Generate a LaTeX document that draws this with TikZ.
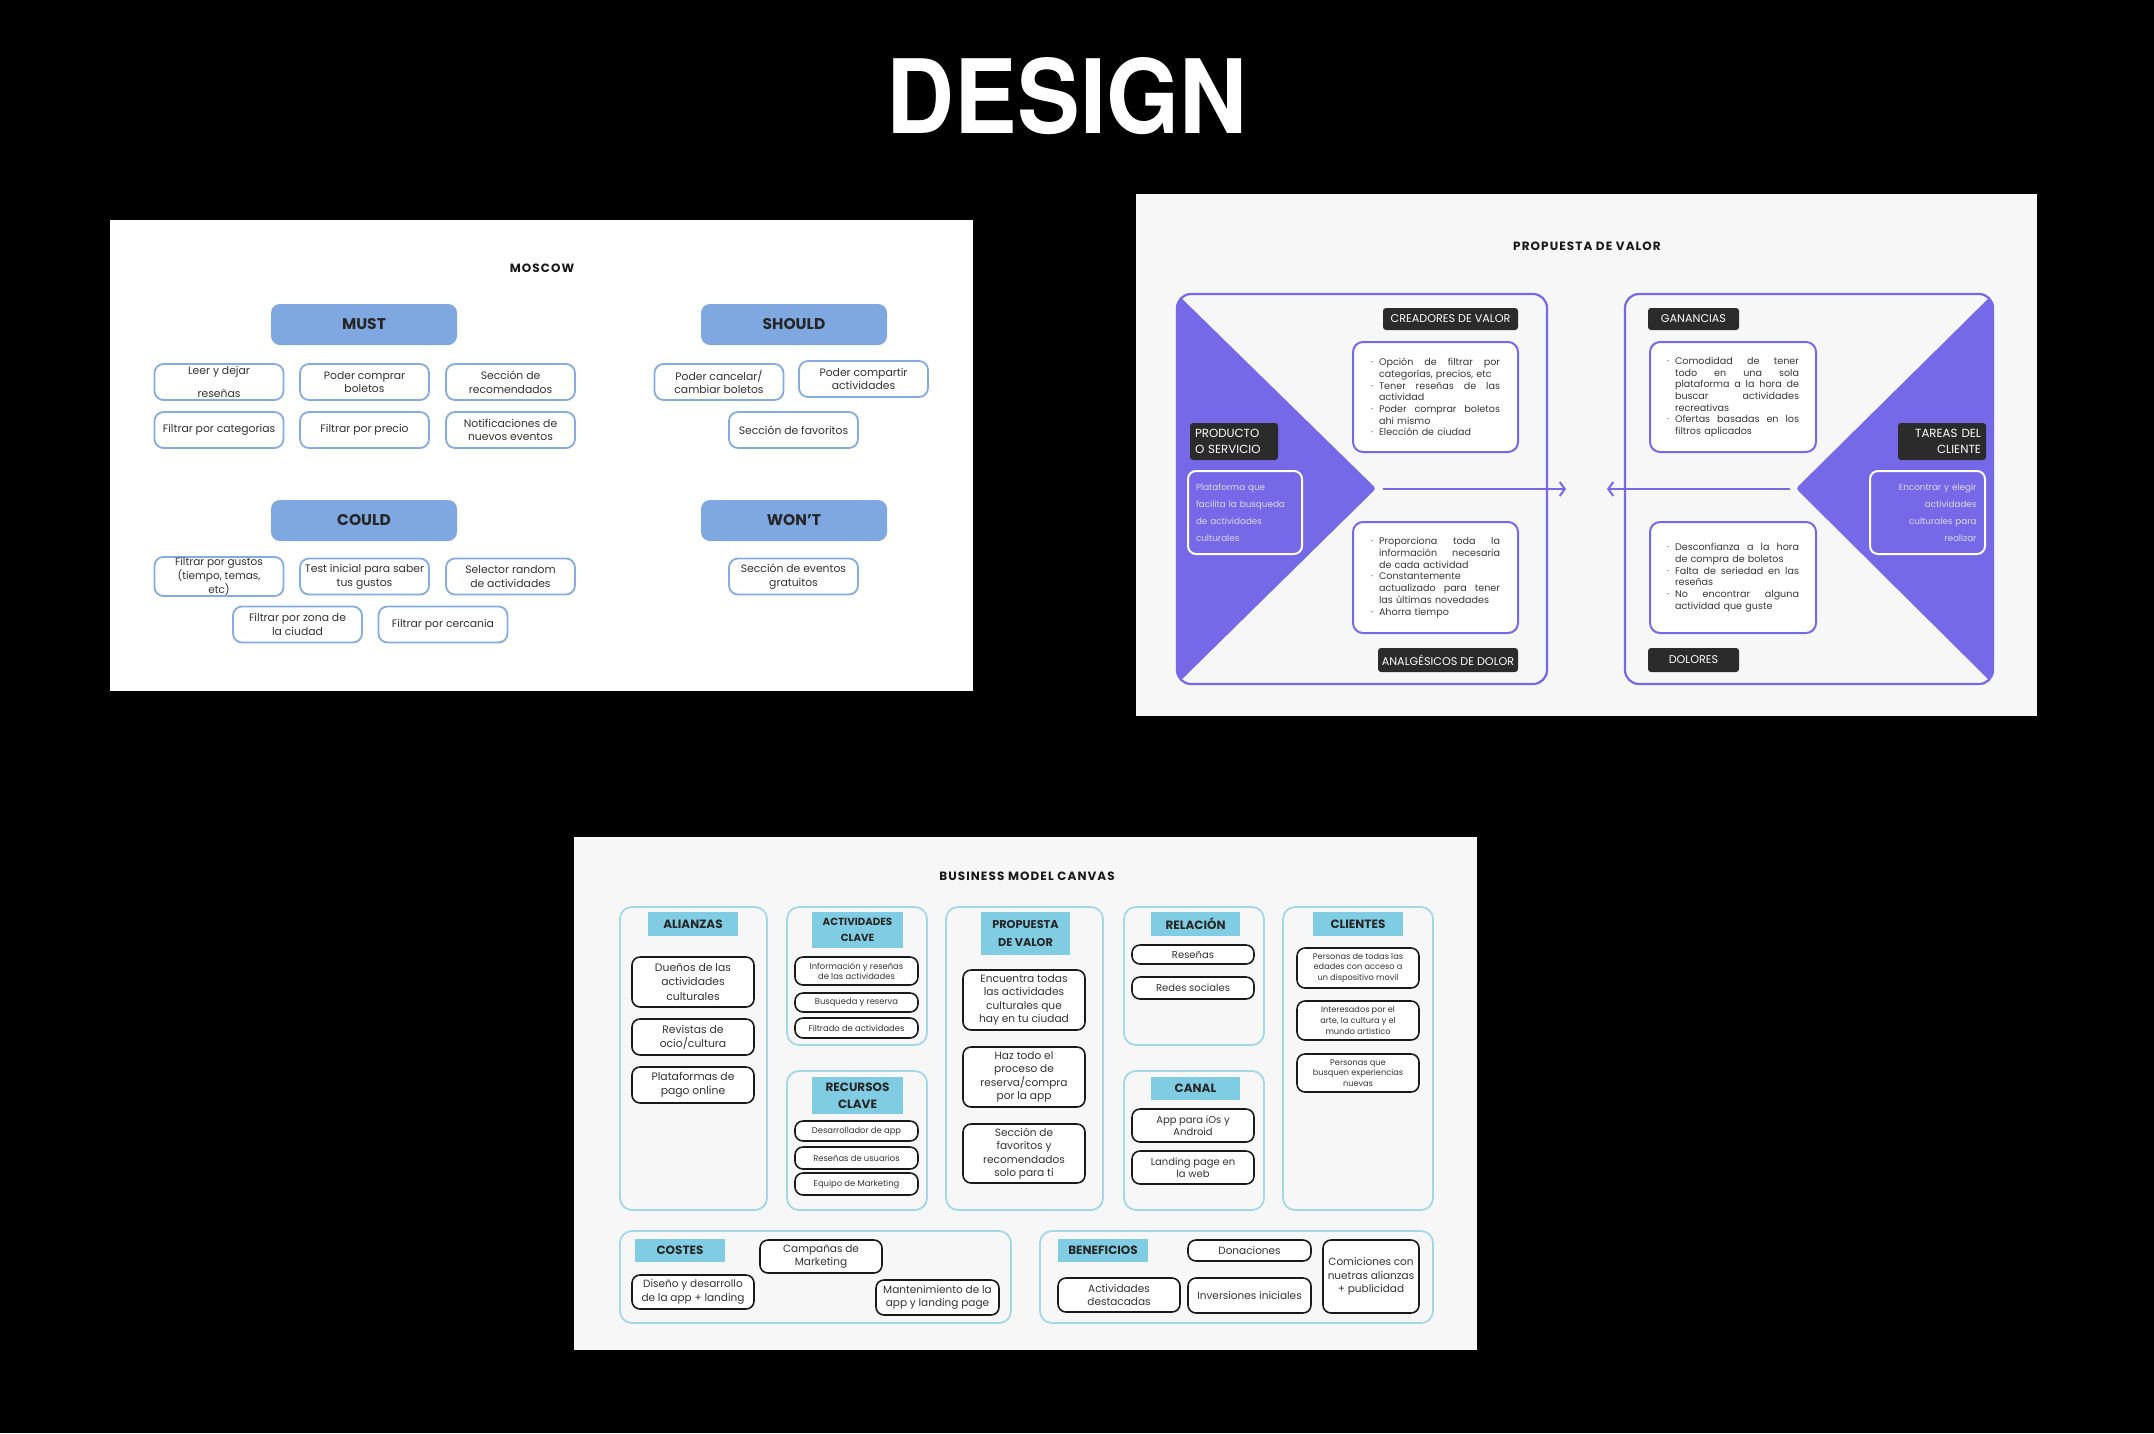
\documentclass[tikz,border=0pt]{standalone}
\usepackage{graphicx}
\usepackage{fontspec}
\setmainfont{Poppins}
\newfontfamily\heros{TeX Gyre Heros}
\usetikzlibrary{arrows.meta}
\definecolor{mblue}{HTML}{7FA7E0}
\definecolor{mbord}{HTML}{86ABE0}
\definecolor{purp}{HTML}{7569E8}
\definecolor{dark}{HTML}{2B2B2B}
\definecolor{cyanh}{HTML}{80CCE2}
\definecolor{cyanb}{HTML}{A3D8E8}
\definecolor{panel}{HTML}{F7F7F7}
\definecolor{lav}{HTML}{DDD8FF}
\newcommand\fsz[2]{\fontsize{#1}{#2}\selectfont}
\newdimen\pw
% bullet lines: justified / left; continuation lines: justified / left
\newcommand\jline[1]{\makebox[\dimexpr\pw-8pt\relax][s]{\spaceskip=.28em plus 1fil\relax #1}}
\newcommand\bj[1]{\noindent\makebox[8pt][l]{·}\jline{#1}\par}
\newcommand\bl[1]{\noindent\makebox[8pt][l]{·}#1\par}
\newcommand\cj[1]{\noindent\hspace*{8pt}\jline{#1}\par}
\newcommand\cl[1]{\noindent\hspace*{8pt}#1\par}
\begin{document}
\begin{tikzpicture}[x=1pt,y=-1pt,
  ptitle/.style={font=\fsz{12}{14}\bfseries\addfontfeature{LetterSpace=9}, text=black!90},
  mhead/.style={fill=mblue, rounded corners=9pt, minimum width=186pt, minimum height=41pt, font=\fsz{15.5}{18}\bfseries, text=black!85},
  mitem/.style={draw=mbord, line width=1.8pt, fill=white, rounded corners=9pt, minimum width=129pt, minimum height=36pt, align=center, font=\fsz{10.8}{13.7}, text=black!80, inner sep=1pt},
  plabel/.style={fill=dark, rounded corners=3pt, text=white, font=\fsz{11.2}{16}, inner sep=0pt},
  pbox/.style={draw=purp, line width=2pt, fill=white, rounded corners=10pt, align=left, font=\fsz{9.6}{11.7}, text=black!78},
  pside/.style={draw=white, line width=2pt, fill=purp, rounded corners=8pt, text width=98pt, font=\fsz{8.8}{17}, text=lav},
  psquare/.style={draw=purp, line width=2.2pt, rounded corners=14pt},
  parrow/.style={draw=purp, line width=2pt, -{Straight Barb[length=5pt,width=14pt,line width=2pt]}},
  bcol/.style={draw=cyanb, line width=1.8pt, rounded corners=12pt},
  bhead/.style={fill=cyanh, minimum width=90pt, minimum height=24pt, font=\fsz{12}{16}\bfseries, align=center, text=black!85, inner sep=0pt},
  bitem/.style={draw=black!90, line width=1.6pt, fill=white, rounded corners=8pt, minimum width=122pt, align=center, inner sep=0pt, text=black!80},
]
\fill[black] (0,0) rectangle (2154,1433);
\useasboundingbox (0,0) rectangle (2154,1433);

% ---------- title
\node[text=white, font=\heros\bfseries, inner sep=0pt] (title) at (1067,96) {\resizebox{360pt}{76pt}{DESIGN}};

% ---------- MOSCOW panel
\fill[white] (110,220) rectangle (973,691);
\node[ptitle] (mtitle) at (542,268) {MOSCOW};
\node[mhead] (must) at (364,324.5) {MUST};
\node[mhead] (should) at (794,324.5) {SHOULD};
\node[mhead] (could) at (364,520.5) {COULD};
\node[mhead] (wont) at (794,520.5) {WON'T};

\node[mitem] (m1) at (219,382) {Leer y dejar\\[9pt]reseñas};
\node[mitem] (m2) at (364.5,382) {Poder comprar\\boletos};
\node[mitem] (m3) at (510.5,382) {Sección de\\recomendados};
\node[mitem] (m4) at (219,430) {Filtrar por categorias};
\node[mitem] (m5) at (364.5,430) {Filtrar por precio};
\node[mitem] (m6) at (510.5,430) {Notificaciones de\\nuevos eventos};

\node[mitem] (s1) at (719,382) {Poder cancelar/\\cambiar boletos};
\node[mitem] (s2) at (863.5,379) {Poder compartir\\actividades};
\node[mitem] (s3) at (793.5,430) {Sección de favoritos};

\node[mitem, font=\fsz{10.5}{12.2}] (c1) at (219,576.5) {Filtrar por gustos\\(tiempo, temas,\\etc)};
\node[mitem] (c2) at (364.5,576.5) {Test inicial para saber\\tus gustos};
\node[mitem] (c3) at (510.5,576.5) {Selector random\\de actividades};
\node[mitem] (c4) at (297.5,624.5) {Filtrar por zona de\\la ciudad};
\node[mitem] (c5) at (443,624.5) {Filtrar por cercania};

\node[mitem] (w1) at (793.5,576.5) {Sección de eventos\\gratuitos};

% ---------- PROPUESTA DE VALOR panel
\fill[panel] (1136,194) rectangle (2037,716);
\node[ptitle] (ptit) at (1587,246) {PROPUESTA DE VALOR};

\begin{scope}
  \clip[rounded corners=14pt] (1177,294) rectangle (1547,684);
  \fill[purp, rounded corners=3pt] (1170,287) -- (1376,488.5) -- (1170,691) -- cycle;
\end{scope}
\begin{scope}
  \clip[rounded corners=14pt] (1625,294) rectangle (1993,684);
  \fill[purp, rounded corners=3pt] (2000,287) -- (1796,488.5) -- (2000,691) -- cycle;
\end{scope}
\draw[psquare] (1177,294) rectangle (1547,684);
\draw[psquare] (1625,294) rectangle (1993,684);

\coordinate (la) at (1383,489);
\coordinate (lb) at (1566,489);
\coordinate (ra) at (1790,489);
\coordinate (rb) at (1607,489);
\draw[parrow] (la) -- (lb);
\draw[parrow] (ra) -- (rb);

\node[plabel, minimum width=135pt, minimum height=22pt] (lcre) at (1450.5,319) {CREADORES DE VALOR};
\node[plabel, minimum width=140pt, minimum height=24pt] (lana) at (1448,660) {ANALGÉSICOS DE DOLOR};
\node[plabel, minimum width=91pt, minimum height=22pt] (lgan) at (1693.5,319) {GANANCIAS};
\node[plabel, minimum width=91pt, minimum height=24pt] (ldol) at (1693.5,660) {DOLORES};
\node[plabel, font=\fsz{11.8}{16.5}, minimum width=88pt, minimum height=37pt, text width=78pt, align=left] (lpro) at (1234,441.5) {PRODUCTO\\O SERVICIO};
\node[plabel, font=\fsz{11.8}{16.5}, minimum width=88pt, minimum height=37pt, text width=78pt, align=right] (ltar) at (1942,441.5) {TAREAS DEL\\CLIENTE};

\node[pbox, minimum width=165pt, minimum height=110pt, text width=129pt] (cre) at (1435.5,397) {\pw=129pt\relax
\bj{Opción de filtrar por}\cl{categorías, precios, etc}%
\bj{Tener reseñas de las}\cl{actividad}%
\bj{Poder comprar boletos}\cl{ahi mismo}%
\bl{Elección de ciudad}};
\node[pbox, minimum width=165pt, minimum height=111pt, text width=129pt] (ana) at (1435.5,577.5) {\pw=129pt\relax
\bj{Proporciona toda la}\cj{información necesaria}\cl{de cada actividad}%
\bl{Constantemente}\cj{actualizado para tener}\cl{las últimas novedades}%
\bl{Ahorra tiempo}};
\node[pbox, minimum width=166pt, minimum height=110pt, text width=132pt] (gan) at (1733,397) {\pw=132pt\relax
\bj{Comodidad de tener}\cj{todo en una sola}\cj{plataforma a la hora de}\cj{buscar actividades}\cl{recreativas}%
\bj{Ofertas basadas en los}\cl{filtros aplicados}};
\node[pbox, minimum width=166pt, minimum height=111pt, text width=132pt] (dol) at (1733,577.5) {\pw=132pt\relax
\bj{Desconfianza a la hora}\cl{de compra de boletos}%
\bj{Falta de seriedad en las}\cl{reseñas}%
\bj{No encontrar alguna}\cl{actividad que guste}};

\node[pside, minimum width=114pt, minimum height=83pt, align=left] (pro) at (1245,512.5) {Plataforma que\\facilita la busqueda\\de actividades\\culturales};
\node[pside, minimum width=115pt, minimum height=83pt, align=right] (tar) at (1927.5,512.5) {Encontrar y elegir\\actividades\\culturales para\\realizar};

% ---------- BUSINESS MODEL CANVAS panel
\fill[panel] (574,837) rectangle (1477,1350);
\node[ptitle] (btit) at (1027,876) {BUSINESS MODEL CANVAS};

\draw[bcol] (620,907) rectangle (767,1210);
\draw[bcol] (787,907) rectangle (927,1045);
\draw[bcol] (787,1071) rectangle (927,1210);
\draw[bcol] (946,907) rectangle (1103,1210);
\draw[bcol] (1124,907) rectangle (1264,1045);
\draw[bcol] (1124,1071) rectangle (1264,1210);
\draw[bcol] (1283,907) rectangle (1433,1210);
\draw[bcol] (620,1231) rectangle (1011,1323);
\draw[bcol] (1040,1231) rectangle (1433,1323);

\node[bhead] (hali) at (693,924) {ALIANZAS};
\node[bhead, minimum width=91pt, minimum height=36pt, font=\fsz{10.3}{16.5}\bfseries] (hact) at (857.5,930) {ACTIVIDADES\\CLAVE};
\node[bhead, minimum width=91pt, minimum height=37pt, font=\fsz{12}{17.5}\bfseries] (hrec) at (857.5,1095.5) {RECURSOS\\CLAVE};
\node[bhead, minimum width=89pt, minimum height=43pt, font=\fsz{11.3}{18}\bfseries] (hpro) at (1025.5,933.5) {PROPUESTA\\DE VALOR};
\node[bhead, minimum width=89pt] (hrel) at (1195.5,924) {RELACIÓN};
\node[bhead, minimum width=89pt, minimum height=23pt] (hcan) at (1195.5,1088.5) {CANAL};
\node[bhead] (hcli) at (1358,924) {CLIENTES};
\node[bhead, minimum height=23pt] (hcos) at (680,1250.5) {COSTES};
\node[bhead, minimum height=23pt] (hben) at (1103,1250.5) {BENEFICIOS};

\node[bitem, minimum height=50pt, font=\fsz{10.8}{14.3}] (a1) at (693,982) {Dueños de las\\actividades\\culturales};
\node[bitem, minimum height=36pt, font=\fsz{10.8}{14.3}] (a2) at (693,1037) {Revistas de\\ocio/cultura};
\node[bitem, minimum height=36pt, font=\fsz{10.8}{14.3}] (a3) at (693,1085) {Plataformas de\\pago online};

\node[bitem, minimum width=123pt, minimum height=28pt, font=\fsz{8.4}{10.5}] (k1) at (856.5,971) {Información y reseñas\\de las actividades};
\node[bitem, minimum width=123pt, minimum height=19pt, font=\fsz{8.4}{10}] (k2) at (856.5,1002.5) {Busqueda y reserva};
\node[bitem, minimum width=123pt, minimum height=20pt, font=\fsz{8.4}{10}] (k3) at (856.5,1028) {Filtrado de actividades};

\node[bitem, minimum width=123pt, minimum height=20pt, font=\fsz{8.4}{10}] (r1) at (856.5,1131) {Desarrollador de app};
\node[bitem, minimum width=123pt, minimum height=22pt, font=\fsz{8.4}{10}] (r2) at (856.5,1158) {Reseñas de usuarios};
\node[bitem, minimum width=123pt, minimum height=22pt, font=\fsz{8.4}{10}] (r3) at (856.5,1184) {Equipo de Marketing};

\node[bitem, minimum height=60pt, font=\fsz{10.6}{13.4}] (v1) at (1024,1000) {Encuentra todas\\las actividades\\culturales que\\hay en tu ciudad};
\node[bitem, minimum height=60pt, font=\fsz{10.6}{13.4}] (v2) at (1024,1077) {Haz todo el\\proceso de\\reserva/compra\\por la app};
\node[bitem, minimum height=59pt, font=\fsz{10.6}{13.4}] (v3) at (1024,1153.5) {Sección de\\favoritos y\\recomendados\\solo para ti};

\node[bitem, minimum height=19pt, font=\fsz{10}{12}] (e1) at (1193,954.5) {Reseñas};
\node[bitem, minimum height=22pt, font=\fsz{10}{12}] (e2) at (1193,988) {Redes sociales};

\node[bitem, minimum height=33pt, font=\fsz{10}{12.2}] (n1) at (1193,1125.5) {App para iOs y\\Android};
\node[bitem, minimum height=33pt, font=\fsz{10}{12.2}] (n2) at (1193,1167.5) {Landing page en\\la web};

\node[bitem, minimum height=40pt, font=\fsz{8.2}{10.8}] (l1) at (1358,968) {Personas de todas las\\edades con acceso a\\un dispositivo movil};
\node[bitem, minimum height=39pt, font=\fsz{8.2}{10.8}] (l2) at (1358,1020.5) {Interesados por el\\arte, la cultura y el\\mundo artistico};
\node[bitem, minimum height=38pt, font=\fsz{8.2}{10.8}] (l3) at (1358,1073) {Personas que\\busquen experiencias\\nuevas};

\node[bitem, minimum height=33pt, font=\fsz{10.5}{13.3}] (o1) at (821,1256.5) {Campañas de\\Marketing};
\node[bitem, minimum height=34pt, font=\fsz{10.5}{13.3}] (o2) at (693,1292) {Diseño y desarrollo\\de la app + landing};
\node[bitem, minimum width=123pt, minimum height=35pt, font=\fsz{10.5}{13.3}] (o3) at (937.5,1297.5) {Mantenimiento de la\\app y landing page};

\node[bitem, minimum width=123pt, minimum height=21pt, font=\fsz{10.5}{13}] (b1) at (1249.5,1250.5) {Donaciones};
\node[bitem, minimum height=34pt, font=\fsz{10.5}{13.3}] (b2) at (1119,1295) {Actividades\\destacadas};
\node[bitem, minimum width=123pt, minimum height=35pt, font=\fsz{10.5}{13}] (b3) at (1249.5,1295.5) {Inversiones iniciales};
\node[bitem, minimum width=96pt, minimum height=73pt, font=\fsz{10.5}{13.3}] (b4) at (1371,1276.5) {Comiciones con\\nuetras alianzas\\+ publicidad};
\end{tikzpicture}
\end{document}
